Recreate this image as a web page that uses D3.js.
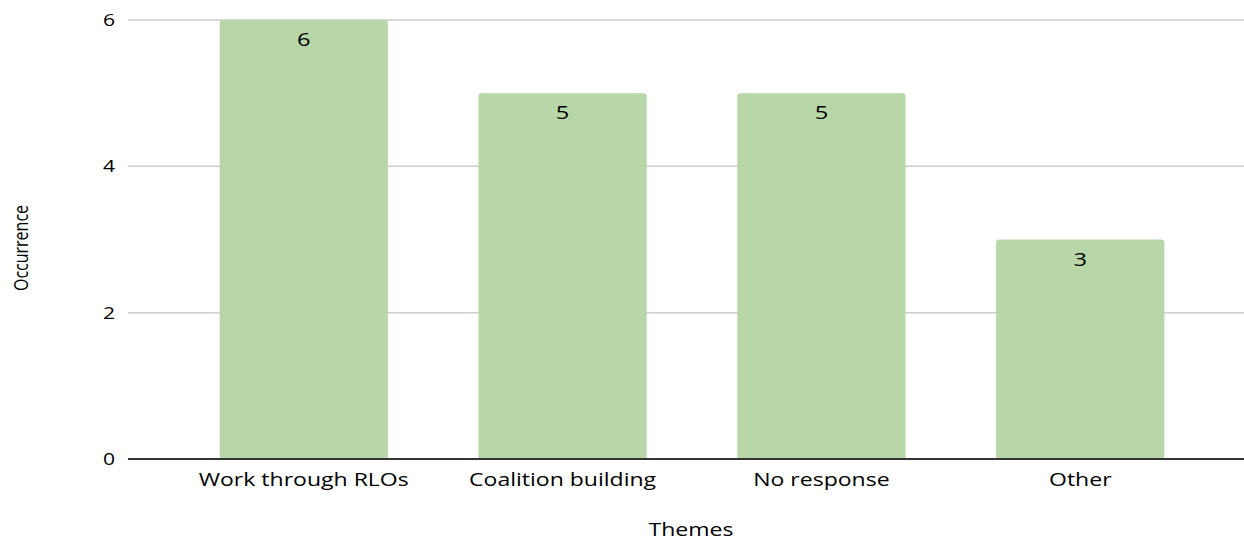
<!DOCTYPE html>
<html>
<head>
<meta charset="utf-8">
<script src="https://cdn.jsdelivr.net/npm/d3@7/dist/d3.min.js"></script>
<style>
  html, body { margin: 0; padding: 0; background: #fff; }
  svg { display: block; }
  text { font-family: "Open Sans", sans-serif; fill: #000; font-weight: 500; }
</style>
</head>
<body>
<svg id="chart" width="1244" height="542"></svg>
<script>
// Theme counts
const themes = ["Work through RLOs", "Coalition building", "No response", "Other"];
const occurrence = [6, 5, 5, 3];
const yTicks = [0, 2, 4, 6];

const W = 1244, H = 542;
const plot = { left: 128, right: 1256, top: 20, bottom: 459 };
const stretch = 1.28; // wide lettering

const svg = d3.select("#chart");

const x = d3.scaleBand()
  .domain(themes)
  .range([plot.left, plot.right])
  .paddingInner(0.35)
  .paddingOuter(0.354);

const y = d3.scaleLinear()
  .domain([0, 6])
  .range([plot.bottom, plot.top]);

// Horizontal gridlines
svg.append("g")
  .selectAll("line")
  .data(yTicks.filter(d => d !== 0))
  .join("line")
  .attr("x1", plot.left).attr("x2", W)
  .attr("y1", d => y(d)).attr("y2", d => y(d))
  .attr("stroke", "#cccccc").attr("stroke-width", 1.5);

// Y tick labels
svg.append("g")
  .selectAll("text")
  .data(yTicks)
  .join("text")
  .attr("text-anchor", "end")
  .attr("transform", d => `translate(115,${y(d) + 6}) scale(${stretch},1)`)
  .style("font-size", "16.5px")
  .text(d => d);

// Bars with rounded top corners
const r = 3;
function barPath(x0, w, yTop, yBase) {
  return `M${x0},${yBase}V${yTop + r}Q${x0},${yTop} ${x0 + r},${yTop}` +
         `H${x0 + w - r}Q${x0 + w},${yTop} ${x0 + w},${yTop + r}V${yBase}Z`;
}
svg.append("g")
  .selectAll("path")
  .data(themes)
  .join("path")
  .attr("d", (d, i) => barPath(x(d), x.bandwidth(), y(occurrence[i]), y(0)))
  .attr("fill", "#b7d7a8");

// Value labels inside bar tops
svg.append("g")
  .selectAll("text")
  .data(themes)
  .join("text")
  .attr("text-anchor", "middle")
  .attr("transform", (d, i) => `translate(${x(d) + x.bandwidth() / 2},${y(occurrence[i]) + 26}) scale(${stretch},1)`)
  .style("font-size", "18.5px")
  .text((d, i) => occurrence[i]);

// Baseline
svg.append("line")
  .attr("x1", plot.left).attr("x2", W)
  .attr("y1", y(0)).attr("y2", y(0))
  .attr("stroke", "#333333").attr("stroke-width", 1.8);

// Category labels
svg.append("g")
  .selectAll("text")
  .data(themes)
  .join("text")
  .attr("text-anchor", "middle")
  .attr("transform", d => `translate(${x(d) + x.bandwidth() / 2},486) scale(${stretch},1)`)
  .style("font-size", "18px")
  .text(d => d);

// Axis titles
svg.append("text")
  .attr("text-anchor", "middle")
  .attr("transform", `translate(691,536) scale(${stretch},1)`)
  .style("font-size", "18px")
  .text("Themes");

svg.append("text")
  .attr("text-anchor", "middle")
  .attr("transform", `translate(28,248) rotate(-90) scale(1,1.3)`)
  .style("font-size", "16px")
  .text("Occurrence");
</script>
</body>
</html>
